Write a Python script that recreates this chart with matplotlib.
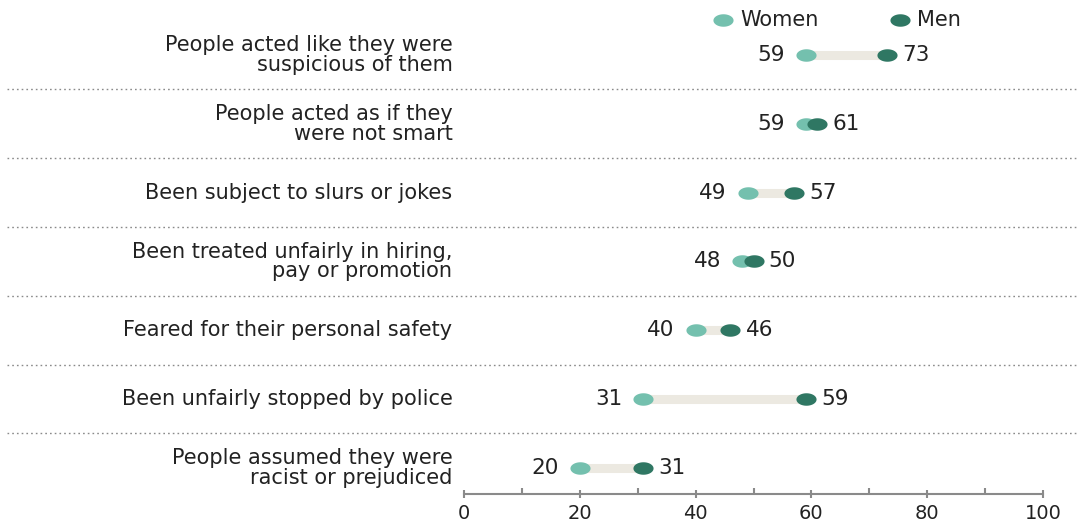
import numpy as np
import matplotlib.pyplot as plt
from matplotlib.path import Path

# data
items = ["People acted like they were\nsuspicious of them",
         "People acted as if they\nwere not smart",
         "Been subject to slurs or jokes",
         "Been treated unfairly in hiring,\npay or promotion",
         "Feared for their personal safety",
         "Been unfairly stopped by police",
         "People assumed they were\nracist or prejudiced"]
women = [59, 59, 49, 48, 40, 31, 20]
men = [73, 61, 57, 50, 46, 59, 31]

c_women = "#74c0ae"
c_men = "#2f7763"
c_bar = "#ece9e1"
c_text = "#222222"

# the original is stretched sideways, so the dots are wide ellipses
t = np.linspace(0, 2 * np.pi, 60)
ellipse = Path(np.column_stack([np.cos(t), 0.62 * np.sin(t)]), closed=True)

fig = plt.figure(figsize=(10.79, 5.24), dpi=100)
ax = fig.add_axes([464 / 1079, 30 / 524, 579 / 1079, 494 / 524])

for i in range(len(items)):
    lo, hi = min(women[i], men[i]), max(women[i], men[i])
    ax.plot([lo, hi], [i, i], color=c_bar, lw=6.5, solid_capstyle='butt', zorder=1)
    ax.plot(women[i], i, marker=ellipse, color=c_women, ms=14.5, mec='none', zorder=3)
    ax.plot(men[i], i, marker=ellipse, color=c_men, ms=14.5, mec='none', zorder=3)
    # value labels: women on the left, men on the right
    ax.annotate(str(women[i]), (lo, i), xytext=(-15, 0), textcoords='offset points',
                ha='right', va='center', fontsize=15.5, color=c_text)
    ax.annotate(str(men[i]), (hi, i), xytext=(11, 0), textcoords='offset points',
                ha='left', va='center', fontsize=15.5, color=c_text)
    ax.text(-2, i, items[i], ha='right', va='center', fontsize=15, color=c_text,
            linespacing=0.98)

# dotted separators across the whole width
for i in range(len(items) - 1):
    ax.axhline(i + 0.5, xmin=-0.79, xmax=1.07, clip_on=False, color="#8a8a8a",
               lw=1, ls=(0, (1.2, 2.2)))

ax.set_xlim(0, 100)
ax.set_ylim(6.38, -0.8)
ax.set_yticks([])
for s in ['top', 'right', 'left']:
    ax.spines[s].set_visible(False)
ax.spines['bottom'].set_color("#8a8a8a")
ax.spines['bottom'].set_linewidth(1.5)
ax.set_xticks([0, 20, 40, 60, 80, 100])
ax.set_xticks([10, 30, 50, 70, 90], minor=True)
ax.tick_params(axis='x', which='major', length=6, width=1.5, color="#8a8a8a",
               direction='inout', labelsize=14, labelcolor=c_text, pad=4)
ax.tick_params(axis='x', which='minor', length=4, width=1.5, color="#8a8a8a",
               direction='in')
ax.patch.set_visible(False)

# legend on top
ly = -0.8 + 20 / 68.8
ax.plot(44.8, ly, marker=ellipse, color=c_women, ms=14.5, mec='none', clip_on=False)
ax.text(47.8, ly, "Women", va='center', fontsize=15, color=c_text)
ax.plot(75.3, ly, marker=ellipse, color=c_men, ms=14.5, mec='none', clip_on=False)
ax.text(78.2, ly, "Men", va='center', fontsize=15, color=c_text)

fig.savefig("out.png", dpi=100)
